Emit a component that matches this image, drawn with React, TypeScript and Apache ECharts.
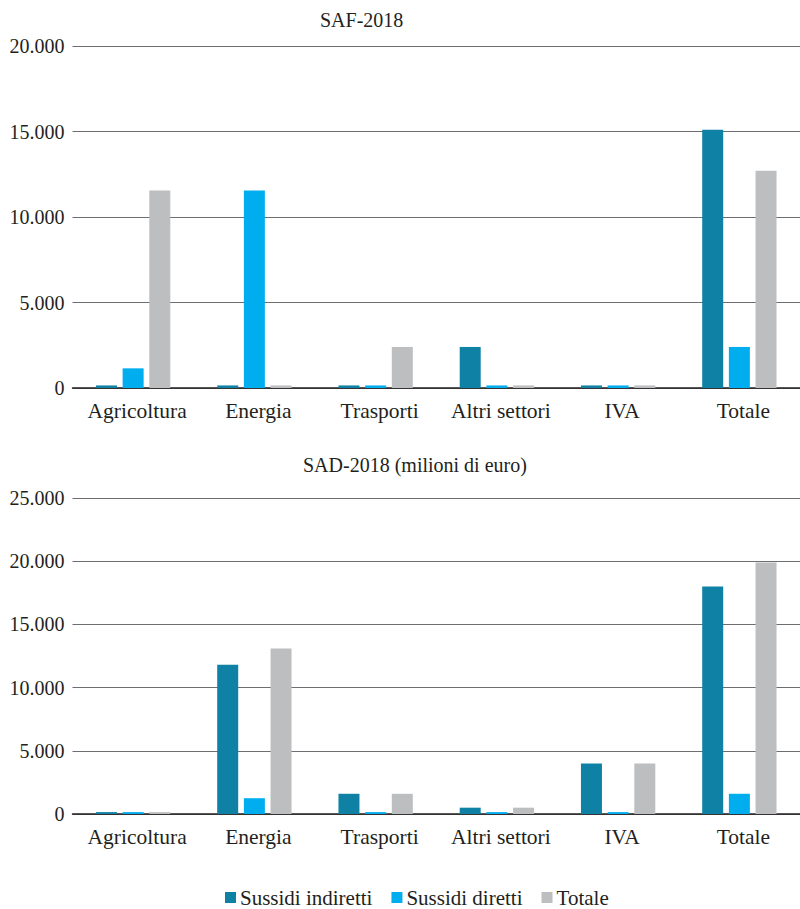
import React, { useEffect, useRef } from "react";
import * as echarts from "echarts";

const categories = ["Agricoltura", "Energia", "Trasporti", "Altri settori", "IVA", "Totale"];
const seriesNames = ["Sussidi indiretti", "Sussidi diretti", "Totale"];
const colors = ["#0e81a5", "#00aeef", "#bcbec0"];

const safIndiretti = [150, 150, 150, 2400, 150, 15100];
const safDiretti = [1150, 11550, 150, 150, 150, 2400];
const safTotale = [11550, 150, 2400, 150, 150, 12700];

const sadIndiretti = [150, 11800, 1600, 500, 4000, 18000];
const sadDiretti = [150, 1250, 150, 150, 150, 1600];
const sadTotale = [150, 13100, 1600, 500, 4000, 19900];

const titleTop = "SAF-2018";
const titleBottom = "SAD-2018 (milioni di euro)";

const FONT = "Liberation Serif";
const TEXT = "#231f20";

const fmt = (v: number) => String(v).replace(/\B(?=(\d{3})+(?!\d))/g, ".");

export default function App() {
  const ref = useRef<HTMLDivElement>(null);
  useEffect(() => {
    if (!ref.current) return;
    const chart = echarts.init(ref.current, null, { renderer: "svg" });
    const mkX = (gridIndex: number) => ({
      type: "category" as const,
      gridIndex,
      data: categories,
      axisTick: { show: false },
      axisLine: { lineStyle: { color: "#231f20", width: 1.5 } },
      axisLabel: { interval: 0, fontFamily: FONT, fontSize: 21.5, color: TEXT, margin: 12, padding: [0, 0, 0, 8] },
    });
    const mkY = (gridIndex: number, max: number) => ({
      type: "value" as const,
      gridIndex,
      min: 0,
      max,
      interval: 5000,
      axisLine: { show: false },
      axisTick: { show: false },
      splitLine: { lineStyle: { color: "#6d6e71", width: 1 } },
      axisLabel: { fontFamily: FONT, fontSize: 20, color: TEXT, margin: 8, formatter: fmt },
    });
    const safData = [safIndiretti, safDiretti, safTotale];
    const sadData = [sadIndiretti, sadDiretti, sadTotale];
    const series: any[] = [];
    safData.forEach((d, i) =>
      series.push({
        type: "bar",
        name: seriesNames[i],
        xAxisIndex: 0,
        yAxisIndex: 0,
        data: d,
        barWidth: 21,
        barGap: "27%",
        itemStyle: { color: colors[i] },
      })
    );
    sadData.forEach((d, i) =>
      series.push({
        type: "bar",
        name: seriesNames[i],
        xAxisIndex: 1,
        yAxisIndex: 1,
        data: d,
        barWidth: 21,
        barGap: "27%",
        itemStyle: { color: colors[i] },
      })
    );
    chart.setOption({
      animation: false,
      color: colors,
      textStyle: { fontFamily: FONT, color: TEXT },
      title: [
        { text: titleTop, left: 320, top: 10, padding: 0, textStyle: { fontFamily: FONT, fontSize: 20, fontWeight: "normal", color: TEXT } },
        { text: titleBottom, left: 303, top: 455, padding: 0, textStyle: { fontFamily: FONT, fontSize: 20, fontWeight: "normal", color: TEXT } },
      ],
      legend: {
        data: seriesNames,
        left: 225,
        top: 887,
        padding: 0,
        icon: "rect",
        itemWidth: 11,
        itemHeight: 11,
        itemGap: 19,
        textStyle: { fontFamily: FONT, fontSize: 21, color: TEXT, padding: [0, 0, 0, -1] },
      },
      grid: [
        { left: 72.5, top: 46, width: 730, height: 342 },
        { left: 72.5, top: 498, width: 730, height: 316 },
      ],
      xAxis: [mkX(0), mkX(1)],
      yAxis: [mkY(0, 20000), mkY(1, 25000)],
      series,
    });
    return () => chart.dispose();
  }, []);
  return <div ref={ref} style={{ position: "fixed", left: 0, top: 0, width: 800, height: 909, background: "#fff" }} />;
}
